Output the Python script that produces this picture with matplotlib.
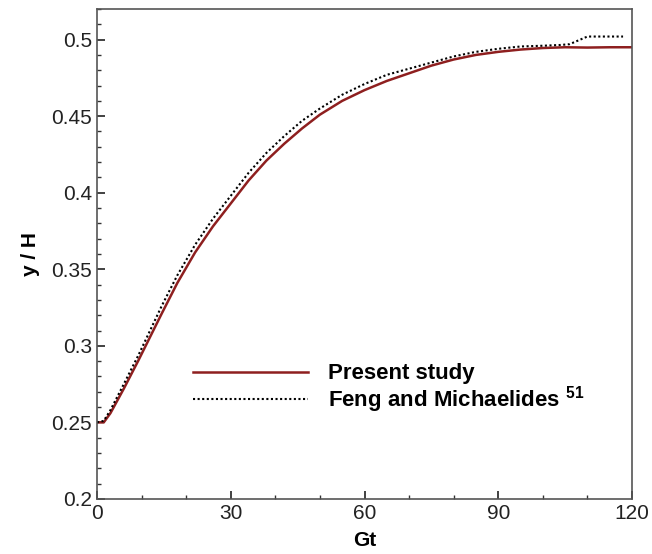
import matplotlib
matplotlib.use('Agg')
import matplotlib.pyplot as plt
from matplotlib.ticker import MultipleLocator, FormatStrFormatter

plt.rcParams['font.family'] = ['Liberation Sans', 'DejaVu Sans']
plt.rcParams['mathtext.fontset'] = 'custom'
plt.rcParams['mathtext.rm'] = 'Liberation Sans'
plt.rcParams['mathtext.bf'] = 'Liberation Sans:bold'

# present study
t_present = [0, 1.5, 3, 6, 9.3, 14.5, 18, 22, 26, 30, 34, 38, 42, 46, 50, 55,
             60, 65, 70, 75, 80, 85, 90, 95, 100, 105, 110, 115, 120]
y_present = [0.25, 0.25, 0.256, 0.272, 0.2906, 0.321, 0.341, 0.361, 0.378, 0.393,
             0.408, 0.421, 0.432, 0.442, 0.451, 0.460, 0.467, 0.473, 0.478, 0.483,
             0.487, 0.490, 0.492, 0.4935, 0.4945, 0.495, 0.4948, 0.495, 0.495]

# Feng and Michaelides
t_feng = [0, 1.5, 3, 6, 9.3, 14.5, 18, 22, 26, 30, 34, 38, 42, 46, 50, 55,
          60, 65, 70, 75, 80, 85, 90, 95, 100, 104, 106, 108, 110, 118]
y_feng = [0.25, 0.251, 0.258, 0.275, 0.294, 0.326, 0.346, 0.366, 0.383, 0.398,
          0.413, 0.426, 0.437, 0.447, 0.455, 0.464, 0.471, 0.477, 0.481, 0.485,
          0.489, 0.492, 0.494, 0.4955, 0.496, 0.4965, 0.497, 0.4995, 0.502, 0.502]

fig = plt.figure(figsize=(6.52, 5.54), dpi=100)
ax = fig.add_axes([0.1488, 0.0993, 0.8205, 0.8845])

ax.plot(t_present, y_present, color='#8e1f1f', lw=1.8, label='Present study')
ax.plot(t_feng, y_feng, color='black', lw=1.5, linestyle=(0, (1, 1.2)),
        label='Feng and Michaelides $^{\\mathbf{51}}$')

ax.set_xlim(0, 120)
ax.set_ylim(0.2, 0.52)
ax.xaxis.set_major_locator(MultipleLocator(30))
ax.xaxis.set_minor_locator(MultipleLocator(10))
ax.yaxis.set_major_locator(MultipleLocator(0.05))
ax.yaxis.set_minor_locator(MultipleLocator(0.01))
ax.yaxis.set_major_formatter(FormatStrFormatter('%g'))

ax.tick_params(which='both', direction='in', top=False, right=False,
               labelsize=15, colors='#333333', labelcolor='#222222')
ax.tick_params(which='major', length=6, width=1.3)
ax.tick_params(which='minor', length=3, width=1)
for s in ax.spines.values():
    s.set_color('#555555')
    s.set_linewidth(1.2)

ax.set_xlabel('Gt', fontsize=15, fontweight='bold', labelpad=6)
ax.set_ylabel('y / H', fontsize=15, fontweight='bold', labelpad=8)

leg = ax.legend(loc='center left', bbox_to_anchor=(0.179, 0.2236), frameon=False,
                prop={'weight': 'bold', 'size': 16}, handlelength=5.2,
                handletextpad=0.9, labelspacing=0.0, borderpad=0, borderaxespad=0)

fig.savefig('out.png', dpi=100)
